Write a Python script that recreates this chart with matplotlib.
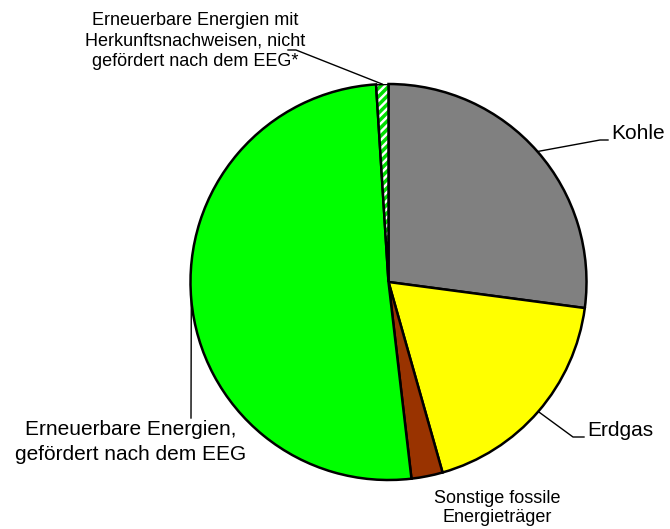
import numpy as np
import matplotlib
matplotlib.use("Agg")
import matplotlib.pyplot as plt
from matplotlib.patches import Wedge

plt.rcParams['font.family'] = ['Liberation Sans', 'DejaVu Sans']
plt.rcParams['hatch.linewidth'] = 2.5

# Anteile in Prozent (im Uhrzeigersinn ab 12 Uhr)
labels = ["Kohle", "Erdgas", "Sonstige fossile\nEnergieträger",
          "Erneuerbare Energien,\ngefördert nach dem EEG",
          "Erneuerbare Energien mit\nHerkunftsnachweisen, nicht\ngefördert nach dem EEG*"]
werte = [27.1, 18.5, 2.55, 50.85, 1.0]
farben = ["#808080", "#ffff00", "#993300", "#00ff00", "#ffffff"]

W, H = 670, 529
R = 198.0
cx, cy = 388.5, 282.0

fig = plt.figure(figsize=(W / 100, H / 100), dpi=100)
ax = fig.add_axes([(cx - R) / W, (H - cy - R) / H, 2 * R / W, 2 * R / H])

wedges, _ = ax.pie(werte, colors=farben, startangle=90, counterclock=False,
                   wedgeprops=dict(edgecolor="black", linewidth=1.8))
ax.set_xlim(-1, 1)
ax.set_ylim(-1, 1)
ax.set_aspect("equal")
ax.axis("off")

# schraffiertes Stück
w = wedges[4]
w.set_hatch("////")
w.set_edgecolor("#00dd00")
w.set_linewidth(0)
ax.add_patch(Wedge((0, 0), 1, w.theta1, w.theta2, fill=False,
                   edgecolor="black", linewidth=1.8))


def px(x, y):
    return (x - cx) / R, (cy - y) / R


def mitte(wd):
    a = np.deg2rad((wd.theta1 + wd.theta2) / 2)
    return np.cos(a), np.sin(a)


lw = 1.0
# Kohle
x0, y0 = mitte(wedges[0])
x1, y1 = px(600, 140)
x2, y2 = px(608, 140)
ax.plot([x0, x1, x2], [y0, y1, y2], color="black", lw=lw, clip_on=False)
ax.text(*px(611, 133), labels[0], fontsize=15, ha="left", va="center")

# Erdgas
x0, y0 = mitte(wedges[1])
x1, y1 = px(573, 437)
x2, y2 = px(584, 437)
ax.plot([x0, x1, x2], [y0, y1, y2], color="black", lw=lw, clip_on=False)
ax.text(*px(587, 430), labels[1], fontsize=15, ha="left", va="center")

# Sonstige
ax.text(*px(497, 508), labels[2], fontsize=13, ha="center", va="center",
        linespacing=1.22)

# EEG
x0, y0 = mitte(wedges[3])
x1, y1 = px(191, 418)
ax.plot([x0, x1], [y0, y1], color="black", lw=lw, clip_on=False)
ax.text(*px(131, 442), labels[3], fontsize=15, ha="center", va="center",
        linespacing=1.37)

# nicht gefördert
x0, y0 = mitte(wedges[4])
x1, y1 = px(296, 50)
x2, y2 = px(288, 50)
ax.plot([x0, x1, x2], [y0, y1, y2], color="black", lw=lw, clip_on=False)
ax.text(*px(195, 41), labels[4], fontsize=13, ha="center", va="center",
        linespacing=1.25)

fig.savefig("out.png", dpi=100)
